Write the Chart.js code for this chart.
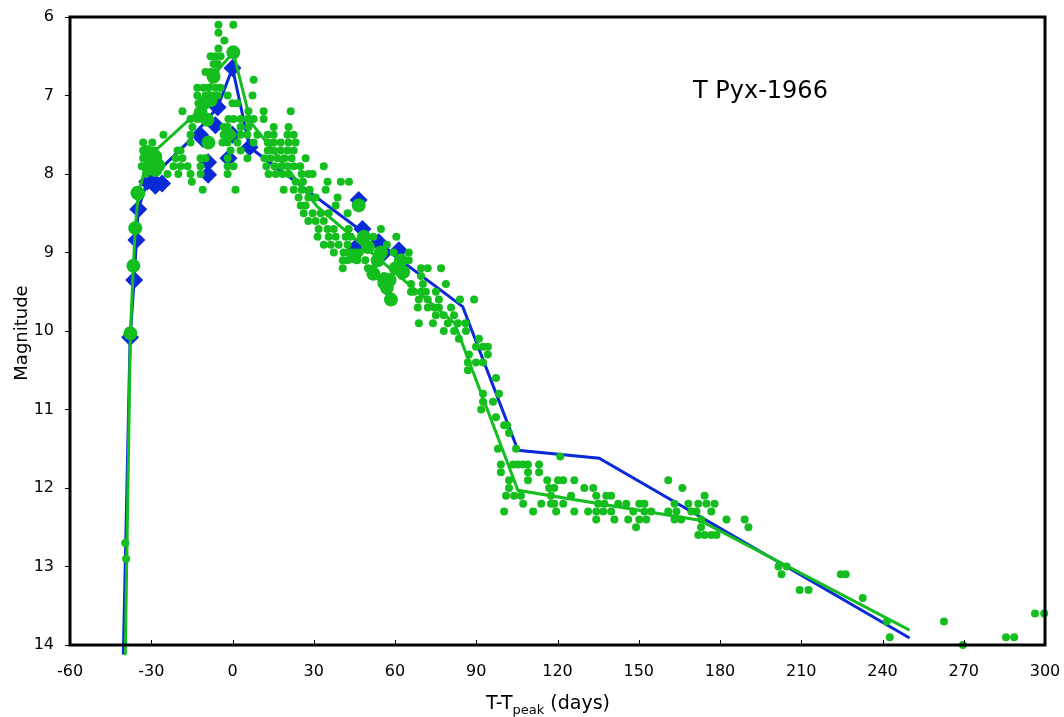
<!DOCTYPE html>
<html>
<head>
<meta charset="utf-8">
<script src="https://cdn.jsdelivr.net/npm/chart.js@4.4.0/dist/chart.umd.min.js"></script>
<style>
  html, body { margin: 0; padding: 0; background: #fff; }
  #wrap { width: 1064px; height: 717px; }
</style>
</head>
<body>
<div id="wrap"><canvas id="lc" width="1064" height="717"></canvas></div>
<script>
// axis ticks
const xTicks = [-60, -30, 0, 30, 60, 90, 120, 150, 180, 210, 240, 270, 300];
const yTicks = [6, 7, 8, 9, 10, 11, 12, 13, 14];

// small green dots, grouped by magnitude: [mag, [days...]]
const dotRows = [
  [6.1, [-5.2, 0.3]],
  [6.2, [-5.2]],
  [6.3, [-3]],
  [6.4, [-5.2]],
  [6.5, [-8.1, -6.3, -4.4]],
  [6.6, [-7, -5.5]],
  [6.7, [-10, -8.1, -6.3]],
  [6.8, [7.8]],
  [6.9, [-13, -10.7, -8.9, -6.3, -4.4]],
  [7.0, [-13, -10, -7.4, -5.5, -1.8, 7.4]],
  [7.1, [-12.6, -10.7, -8.9, 0, 1.8]],
  [7.2, [-18.5, 5.9, 11.5, 21.5]],
  [7.3, [-15.5, -13, -11, -1.5, 0.4, 3, 5.6, 7.8, 11.5]],
  [7.4, [-14.8, -3.3, -1.8, 3, 5.9, 15.2, 20.7]],
  [7.5, [-25.5, -15.5, -3.3, 0, 3, 5.5, 9.2, 13, 15.2, 20.3, 22.6]],
  [7.6, [-33, -29.6, -15.5, -8.1, -3.7, -1.8, 1.8, 7.8, 13, 15.2, 17.8, 20.7, 23.3]],
  [7.7, [-33, -29, -20.3, -19.2, -0.7, 3, 13, 15.2, 17.8, 20.3, 22.6]],
  [7.8, [-33, -21, -18.5, -11.8, -10, -1.8, 5.5, 11.8, 14, 16.6, 19.2, 21.8, 27]],
  [7.9, [-33.5, -29, -21.8, -19.2, -16.6, -11.8, -1.8, 0.4, 12.5, 15.5, 18, 20.3, 22.6, 25, 33.7]],
  [8.0, [-32, -24, -20, -15.5, -11.8, -1.8, 13.3, 16, 18.5, 20.8, 25.5, 28, 29.6]],
  [8.1, [-15, 23.3, 26, 35.1, 40, 43]],
  [8.2, [-11, 1.1, 18.9, 22.6, 25.5, 28.5, 34.4]],
  [8.3, [24.4, 28, 30.7, 38.8]],
  [8.4, [25.2, 27, 38.1]],
  [8.5, [26.3, 29.6, 32.6, 35.5, 42.5]],
  [8.6, [28, 30.7, 33.7]],
  [8.7, [31.8, 35.1, 37.4, 42.9, 54.8]],
  [8.8, [31.4, 35.5, 38.1, 41.8, 43.7, 52, 60.5]],
  [8.9, [33.7, 36.3, 39.2, 42.5, 50, 57]],
  [9.0, [37.4, 41, 42.9, 44, 45.5, 47, 59.5, 65.1]],
  [9.1, [40.7, 42.5, 46, 49, 62, 65.1]],
  [9.2, [40.7, 50, 52, 60, 69.6, 72.1, 77]],
  [9.3, [53, 56, 62.5, 69.6]],
  [9.4, [55, 58, 65.9, 70.3, 78.8]],
  [9.5, [57.5, 65.9, 67, 69.6, 71.4, 75.1]],
  [9.6, [59, 68.8, 72.1, 76.2, 84, 89.2]],
  [9.7, [68.4, 72.1, 74.5, 76.2, 80.7]],
  [9.8, [75.1, 78, 81.8]],
  [9.9, [68.8, 74, 79.5, 83.2, 86]],
  [10.0, [78, 81.8, 86.2]],
  [10.1, [83.6, 91]],
  [10.2, [89.9, 92.5, 94.3]],
  [10.3, [87.3, 94.3]],
  [10.4, [86.9, 89.9, 92.5]],
  [10.5, [86.9]],
  [10.6, [97.3]],
  [10.8, [92.5, 98.4]],
  [10.9, [92.5, 96.2]],
  [11.0, [91.8]],
  [11.1, [97.3]],
  [11.2, [100.3, 101.4]],
  [11.3, [102.1]],
  [11.5, [98, 104.7]],
  [11.6, [121]],
  [11.7, [99.1, 103.6, 105.4, 107.3, 109.1, 113.2]],
  [11.8, [99.1, 109.1, 113.2]],
  [11.9, [102.1, 109.1, 116.2, 120.2, 122.1, 126.2, 160.9]],
  [12.0, [102.1, 116.9, 118.8, 129.9, 133.2, 166.1]],
  [12.1, [101, 104, 106.5, 117.6, 125, 134.3, 138, 139.8, 174.3]],
  [12.2, [107.3, 114, 117.6, 118.8, 122.1, 135, 137.3, 142.4, 145.4, 150.2, 152.1, 163.2, 168.3, 172, 175, 178]],
  [12.3, [100.3, 111, 119.5, 126.2, 131.3, 134.3, 136.9, 139.8, 148, 152.1, 154.6, 160.9, 163.9, 169.4, 171.3, 176.8]],
  [12.4, [134.3, 141, 146.1, 150.2, 152.8, 163.2, 165.7, 173.1, 182.4, 189.1]],
  [12.5, [149, 173, 190.5]],
  [12.6, [172, 174.3, 176.8, 178.7]],
  [12.7, [-39.6]],
  [12.9, [-39.3]],
  [13.0, [201.6, 204.6]],
  [13.1, [202.7, 224.6, 226.4]],
  [13.3, [209.4, 212.7]],
  [13.4, [232.7]],
  [13.6, [296.3, 299.7]],
  [13.7, [241.6, 262.7]],
  [13.9, [242.7, 285.6, 288.6]],
  [14.0, [269.7]]
];

// large green circles [day, mag]
const bigGreen = [
  [-37.7, 10.03], [-36.6, 9.17], [-35.9, 8.69], [-35.1, 8.24], [-34.8, 8.25],
  [-31.5, 7.72], [-30.3, 7.82], [-28.5, 7.78], [-27.4, 7.89], [-31, 7.92], [-28.5, 7.95],
  [-11.8, 7.22], [-10.7, 7.1], [-9.3, 7.31], [-8.1, 7.06], [-7, 6.76], [-8.9, 7.6],
  [-1.5, 7.5], [0.3, 6.45],
  [46.6, 8.4], [45, 9.05], [48.5, 8.8], [50, 8.93], [52, 9.27], [53.6, 9.1], [54.8, 9.0],
  [56, 9.35], [57, 9.45], [58, 9.35], [58.5, 9.6], [60.3, 9.2], [62.2, 9.1], [63, 9.25]
];

// blue diamonds [day, mag]
const blueDiamonds = [
  [-37.8, 10.08], [-36.3, 9.35], [-35.5, 8.84], [-34.8, 8.45],
  [-31.5, 8.1], [-30.3, 8.05], [-28.5, 8.15], [-26, 8.12],
  [-12, 7.5], [-11, 7.55], [-9, 7.85], [-9, 8.01], [-6.3, 7.38], [-5.5, 7.15],
  [-1.5, 7.8], [0, 7.5], [0, 6.65], [6.3, 7.66],
  [45.5, 8.94], [46.6, 8.33], [48, 8.7], [54, 8.87], [56, 9.0], [61.4, 8.97]
];

// smoothed light curves [day, mag]
const blueCurve = [
  [-40.3, 14.12], [-37.8, 10.08], [-36.3, 9.35], [-35.5, 8.84], [-34.8, 8.45],
  [-31.5, 8.1], [-16.6, 7.6], [-5.5, 7.15], [0, 6.65], [6.3, 7.66],
  [85, 9.69], [105.4, 11.52], [135.4, 11.62], [250, 13.91]
];
const greenCurve = [
  [-39.6, 14.13], [-37.7, 10.03], [-36.6, 9.17], [-35.9, 8.69], [-34.8, 8.25],
  [-31, 7.78], [-10, 7.12], [-7, 6.74], [0.3, 6.45], [6.7, 7.34],
  [31.4, 8.42], [82, 9.9], [105.4, 12.03], [172.4, 12.41], [250, 13.81]
];

const GREEN = '#14be1e';
const BLUE = '#0a2ad8';
const FONT = '"DejaVu Sans", Verdana, sans-serif';

function toXY(list) { return list.map(p => ({ x: p[0], y: p[1] })); }
const dotPoints = [];
dotRows.forEach(r => r[1].forEach(d => dotPoints.push({ x: d, y: r[0] })));

// frame, inward x ticks and the text labels
const decor = {
  id: 'decor',
  afterDraw(chart) {
    const ctx = chart.ctx, a = chart.chartArea, xs = chart.scales.x;
    ctx.save();
    ctx.strokeStyle = '#000';
    ctx.lineWidth = 1;
    xTicks.forEach(v => {
      const px = Math.round(xs.getPixelForValue(v)) + 0.5;
      ctx.beginPath(); ctx.moveTo(px, a.bottom); ctx.lineTo(px, a.bottom - 5); ctx.stroke();
    });
    ctx.lineWidth = 3;
    ctx.strokeRect(a.left, a.top, a.right - a.left, a.bottom - a.top);

    ctx.fillStyle = '#000';
    ctx.font = '24px ' + FONT;
    ctx.textBaseline = 'alphabetic';
    ctx.fillText('T Pyx-1966', 693, 98);

    // y title
    ctx.font = '18px ' + FONT;
    ctx.translate(27, 333);
    ctx.rotate(-Math.PI / 2);
    ctx.textAlign = 'center';
    ctx.fillText('Magnitude', 0, 0);
    ctx.setTransform(1, 0, 0, 1, 0, 0);

    // x title with subscript
    ctx.textAlign = 'left';
    const p1 = 'T-T', p2 = 'peak', p3 = ' (days)';
    ctx.font = '19px ' + FONT; const w1 = ctx.measureText(p1).width;
    ctx.font = '13px ' + FONT; const w2 = ctx.measureText(p2).width;
    ctx.font = '19px ' + FONT; const w3 = ctx.measureText(p3).width;
    let x0 = 548 - (w1 + w2 + w3) / 2;
    ctx.fillText(p1, x0, 709);
    ctx.font = '13px ' + FONT; ctx.fillText(p2, x0 + w1, 714);
    ctx.font = '19px ' + FONT; ctx.fillText(p3, x0 + w1 + w2, 709);
    ctx.restore();
  }
};

new Chart(document.getElementById('lc'), {
  type: 'scatter',
  data: {
    datasets: [
      { label: 'blue fit', type: 'line', data: toXY(blueCurve), borderColor: BLUE, borderWidth: 3,
        pointRadius: 0, fill: false, tension: 0, clip: false, order: 5 },
      { label: 'blue pts', data: toXY(blueDiamonds), pointStyle: 'rectRot', pointRadius: 9,
        backgroundColor: BLUE, borderColor: BLUE, borderWidth: 0, order: 4 },
      { label: 'green fit', type: 'line', data: toXY(greenCurve), borderColor: GREEN, borderWidth: 3,
        pointRadius: 0, fill: false, tension: 0, clip: false, order: 3 },
      { label: 'green dots', data: dotPoints, pointRadius: 4, backgroundColor: GREEN,
        borderColor: GREEN, borderWidth: 0, clip: false, order: 2 },
      { label: 'green big', data: toXY(bigGreen), pointRadius: 7, backgroundColor: GREEN,
        borderColor: GREEN, borderWidth: 0, order: 1 }
    ]
  },
  options: {
    responsive: false,
    animation: false,
    layout: { padding: { top: 17, right: 19, left: 0, bottom: 0 } },
    plugins: { legend: { display: false }, tooltip: { enabled: false } },
    scales: {
      x: {
        type: 'linear', min: -60, max: 300,
        afterFit: s => { s.height = 72; s.paddingLeft = 0; s.paddingRight = 0; },
        afterBuildTicks: s => { s.ticks = xTicks.map(v => ({ value: v })); },
        grid: { display: false, drawTicks: false },
        border: { display: false },
        ticks: { color: '#000', font: { family: FONT, size: 16 }, padding: 17, maxRotation: 0 }
      },
      y: {
        type: 'linear', min: 6, max: 14, reverse: true,
        afterFit: s => { s.width = 70; s.paddingTop = 0; s.paddingBottom = 0; },
        afterBuildTicks: s => { s.ticks = yTicks.map(v => ({ value: v })); },
        grid: { drawOnChartArea: false, drawTicks: true, tickLength: 5, color: '#000', lineWidth: 1 },
        border: { display: false },
        ticks: { color: '#000', font: { family: FONT, size: 16 }, padding: 11 }
      }
    }
  },
  plugins: [decor]
});
</script>
</body>
</html>
